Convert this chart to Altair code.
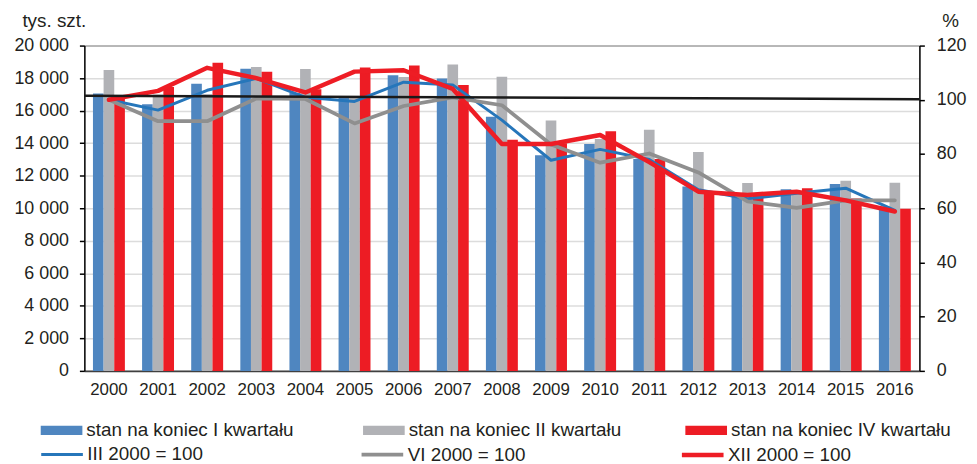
import altair as alt
import pandas as pd

# ---------------- data ----------------
years = [str(y) for y in range(2000, 2017)]

# bars (tys. szt.)
q1 = [17050, 16400, 17660, 18580, 17090, 16810, 18170, 17970, 15630, 13260,
      13950, 13030, 11330, 10720, 11170, 11490, 10110]
q2 = [18500, 17000, 17020, 18680, 18560, 16800, 18070, 18840, 18090, 15390,
      14250, 14830, 13460, 11550, 11000, 11690, 11570]
q4 = [16750, 17460, 18940, 18390, 17320, 18660, 18780, 17580, 14210, 14000,
      14740, 13030, 11020, 10900, 11230, 10600, 9970]

# index lines (%)
idx_iii = [100, 96.2, 103.5, 107.9, 100.9, 99.4, 106.5, 105.5, 92.5, 77.7,
           81.7, 78.0, 66.8, 63.5, 65.5, 67.4, 59.2]
idx_vi = [100, 92.1, 92.1, 100.5, 100.3, 91.3, 97.7, 100.9, 98.0, 83.5,
          76.8, 80.2, 73.2, 62.5, 60.1, 62.9, 62.9]
idx_xii = [100, 103.3, 111.8, 108.0, 102.7, 110.4, 110.9, 104.0, 83.7, 83.7,
           87.0, 77.0, 66.1, 64.9, 66.1, 62.9, 58.8]

# reference line (100 level, slightly tilted as in the original)
ref_start = [101.5]
ref_end = [100.2]

bar_names = ["stan na koniec I kwartału", "stan na koniec II kwartału",
             "stan na koniec IV kwartału"]
line_names = ["III 2000 = 100", "VI 2000 = 100", "XII 2000 = 100"]
bar_colors = ["#4f86c0", "#b1b2b6", "#ed1c24"]
line_colors = ["#2676ba", "#8f8f8f", "#ee1d25"]
line_widths = [3, 4.5, 5]

bar_df = pd.DataFrame(
    [{"year": y, "kw": n, "value": v}
     for n, vals in zip(bar_names, [q1, q2, q4])
     for y, v in zip(years, vals)]
)
line_df = pd.DataFrame(
    [{"year": y, "ser": n, "idx": v}
     for n, vals in zip(line_names, [idx_iii, idx_vi, idx_xii])
     for y, v in zip(years, vals)]
)
ref_df = pd.DataFrame({"start": ref_start, "end": ref_end})

FONT = "Liberation Sans"
TXT = "#231f20"

x_axis = alt.Axis(title=None, labelAngle=0, ticks=False, labelFontSize=17,
                  labelPadding=11, labelColor=TXT, domainColor="#404040",
                  domainWidth=2, grid=False, labelFont=FONT)
x_scale = alt.Scale(paddingInner=0.35, paddingOuter=0.175)

left_axis = alt.Axis(
    title="tys. szt.", titleAngle=0, titleX=-63, titleY=-19, titleAlign="left",
    titleBaseline="alphabetic", titleFontSize=19, titleFontWeight="normal",
    titleColor=TXT, titleFont=FONT,
    values=list(range(0, 20001, 2000)),
    labelExpr="replace(format(datum.value, ','), ',', ' ')",
    labelFontSize=18, labelColor=TXT, labelPadding=11, labelFont=FONT,
    tickSize=5, tickColor="#000000", tickWidth=1.5,
    domainColor="#000000", domainWidth=1.5,
    grid=True, gridWidth=1.5,
    gridColor={"condition": {"test": "datum.value === 20000", "value": "#a6a6a6"},
               "value": "#dcdcdc"},
)
right_axis = alt.Axis(
    orient="right", title="%", titleAngle=0, titleX=31, titleY=-19,
    titleAlign="center", titleBaseline="alphabetic", titleFontSize=19,
    titleFontWeight="normal", titleColor=TXT, titleFont=FONT,
    values=list(range(0, 121, 20)),
    labelFontSize=18, labelColor=TXT, labelPadding=12, labelFont=FONT,
    tickSize=5, tickColor="#000000", tickWidth=1.5,
    domainColor="#000000", domainWidth=1.5, grid=False,
)

bars = alt.Chart(bar_df).mark_bar().encode(
    x=alt.X("year:N", sort=years, scale=x_scale, axis=x_axis),
    xOffset=alt.XOffset("kw:N", sort=bar_names,
                        scale=alt.Scale(paddingInner=0, paddingOuter=0)),
    y=alt.Y("value:Q", scale=alt.Scale(domain=[0, 20000], nice=False),
            axis=left_axis),
    color=alt.Color(
        "kw:N",
        scale=alt.Scale(domain=bar_names, range=bar_colors),
        legend=alt.Legend(
            title=None, orient="none", legendX=-44, legendY=367,
            direction="horizontal", columns=3, gridAlign="all",
            columnPadding=57, padding=0,
            symbolType="M-1,-0.22H1V0.22H-1Z", symbolSize=1764,
            symbolStrokeWidth=0, symbolOpacity=1, labelOffset=4,
            labelFontSize=19, labelColor=TXT, labelFont=FONT, labelLimit=400,
        ),
    ),
)

lines = alt.Chart(line_df).mark_line(strokeJoin="round", strokeCap="round").encode(
    x=alt.X("year:N", sort=years, bandPosition=0.5, axis=x_axis),
    y=alt.Y("idx:Q", scale=alt.Scale(domain=[0, 120], nice=False),
            axis=right_axis),
    stroke=alt.Stroke(
        "ser:N",
        scale=alt.Scale(domain=line_names, range=line_colors),
        legend=alt.Legend(
            title=None, orient="none", legendX=-46, legendY=389,
            direction="horizontal", columns=3, gridAlign="all",
            columnPadding=142, padding=0,
            symbolType="stroke", symbolSize=1764, symbolStrokeWidth=3.5,
            labelOffset=2, labelFontSize=19, labelColor=TXT, labelFont=FONT,
            labelLimit=400,
        ),
    ),
    strokeWidth=alt.StrokeWidth(
        "ser:N", scale=alt.Scale(domain=line_names, range=line_widths),
        legend=None),
)

ref = alt.Chart(ref_df).mark_rule(color="#1a1a1a", strokeWidth=2.5).encode(
    x=alt.value(0),
    x2=alt.value(842),
    y=alt.Y("start:Q", axis=right_axis),
    y2="end:Q",
)

right_layer = alt.layer(lines, ref)

chart = (
    alt.layer(bars, right_layer)
    .resolve_scale(y="independent", color="independent")
    .properties(
        width=842, height=328,
        autosize=alt.AutoSizeParams(type="none"),
        padding={"left": 77, "top": 36, "right": 50, "bottom": 92},
    )
    .configure_view(stroke=None)
    .configure(font=FONT)
)

chart.save("out.html", embed_options={"renderer": "svg", "actions": False})
